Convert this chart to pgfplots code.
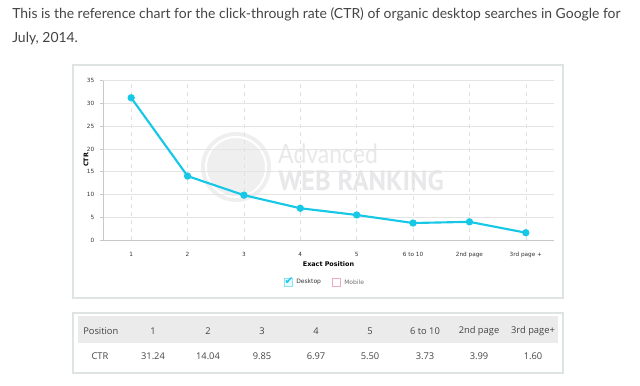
\documentclass[border=0pt]{standalone}
\usepackage{pgfplots}
\pgfplotsset{compat=1.18}
\usepackage{fontspec}
\setmainfont{Lato}
\newfontfamily\chartfont{DejaVu Sans}
\newfontfamily\tablefont{Open Sans}
\newfontfamily\wmfont{PT Sans}
\definecolor{ctrcyan}{RGB}{22,200,230}
\definecolor{axisgray}{RGB}{200,200,200}
\definecolor{gridh}{RGB}{228,228,228}
\definecolor{gridv}{RGB}{225,225,225}
\definecolor{ticktext}{RGB}{50,50,50}
\definecolor{headtext}{RGB}{68,68,68}
\definecolor{boxgray}{RGB}{222,228,228}
\definecolor{tablebg}{RGB}{235,235,235}
\definecolor{wm}{RGB}{232,232,234}
\definecolor{pinkbox}{RGB}{240,170,190}
\begin{document}
\begin{tikzpicture}
\begin{scope}[x=0.75pt,y=-0.75pt,yshift=289.5pt]
\useasboundingbox (0,0) rectangle (640,386);
% chart box
\draw[boxgray, line width=0.9pt] (73,65) rectangle (563,298);
% table box
\draw[boxgray, line width=0.9pt] (73,313) rectangle (563,373);
\fill[tablebg] (78,316) rectangle (558,343);
% watermark
\fill[wm!70] (236,167) circle (35);
\draw[white, line width=1.5pt] (236,167) circle (30);
\node[anchor=base west, text=wm, inner sep=0, font=\fontsize{20}{20}\selectfont, xscale=0.86] at (278,164) {Advanced};
\node[anchor=base west, text=wm, inner sep=0, font=\wmfont\bfseries\fontsize{21}{21}\selectfont, xscale=0.95] at (278,191) {WEB RANKING};
\end{scope}
\begin{axis}[
 at={(77.25pt,109.5pt)}, anchor=south west,
 scale only axis, width=338.25pt, height=119.5pt,
 xmin=0.5, xmax=8.5, ymin=0, ymax=35,
 xtick={1,2,3,4,5,6,7,8},
 xticklabels={1,2,3,4,5,6 to 10,2nd page,3rd page +},
 ytick={0,5,...,35},
 axis x line*=bottom, axis y line*=left,
 axis line style={draw=axisgray, line width=0.6pt, -},
 tick align=outside,
 major tick length=2.5pt,
 xtick style={draw=none},
 ytick style={draw=axisgray, line width=0.5pt},
 grid=major,
 x grid style={dashed, draw=gridv, line width=0.4pt},
 y grid style={draw=gridh, line width=0.6pt},
 tick label style={font=\chartfont\fontsize{4.3}{5}\selectfont, text=ticktext},
 /pgf/number format/assume math mode=true,
 xticklabel style={yshift=-3pt},
 yticklabel style={xshift=-0.5pt},
]
\addplot[color=ctrcyan, line width=1.6pt, mark=*, mark size=1.9pt] coordinates {
 (1,31.24) (2,14.04) (3,9.85) (4,6.97) (5,5.50) (6,3.73) (7,3.99) (8,1.60)};
\end{axis}
\begin{scope}[x=0.75pt,y=-0.75pt,yshift=289.5pt]
% heading
\node[anchor=base west, inner sep=0, text=headtext, font=\fontsize{10.45}{18}\selectfont] at (12,18.7) {This is the reference chart for the click-through rate (CTR) of organic desktop searches in Google for};
\node[anchor=base west, inner sep=0, text=headtext, font=\fontsize{10.45}{18}\selectfont] at (12,42.7) {July, 2014.};
% axis labels
\node[text=black, font=\chartfont\bfseries\fontsize{4.8}{5}\selectfont] at (328.5,264) {Exact Position};
\node[text=black, rotate=90, font=\chartfont\bfseries\fontsize{4.8}{5}\selectfont] at (86,160) {CTR};
% legend
\draw[ctrcyan!50, fill=ctrcyan!10, line width=0.5pt] (284.5,278) rectangle (292.5,286);
\node[text=ctrcyan, font=\chartfont\fontsize{8}{8}\selectfont, inner sep=0] at (289,281.5) {✔};
\node[anchor=west, inner sep=0, text=ticktext, font=\chartfont\fontsize{4.5}{5}\selectfont] at (296,282.3) {Desktop};
\draw[pinkbox, line width=0.5pt] (332,278) rectangle (340,286);
\node[anchor=west, inner sep=0, text=ticktext!70, font=\chartfont\fontsize{4.5}{5}\selectfont] at (344,282.3) {Mobile};
% table
\begin{scope}[every node/.style={text=headtext, font=\tablefont\fontsize{7}{8}\selectfont, inner sep=0}]
\node[anchor=west] at (83,331) {Position};
\node at (153,331) {1};
\node at (208,331) {2};
\node at (262,331) {3};
\node at (316,331) {4};
\node at (370,331) {5};
\node at (425,331) {6 to 10};
\node at (479,331) {2nd page};
\node at (533,331) {3rd page+};
\node at (100,356) {CTR};
\node at (153,356) {31.24};
\node at (208,356) {14.04};
\node at (262,356) {9.85};
\node at (316,356) {6.97};
\node at (370,356) {5.50};
\node at (425,356) {3.73};
\node at (479,356) {3.99};
\node at (533,356) {1.60};
\end{scope}
\end{scope}
\end{tikzpicture}
\end{document}
